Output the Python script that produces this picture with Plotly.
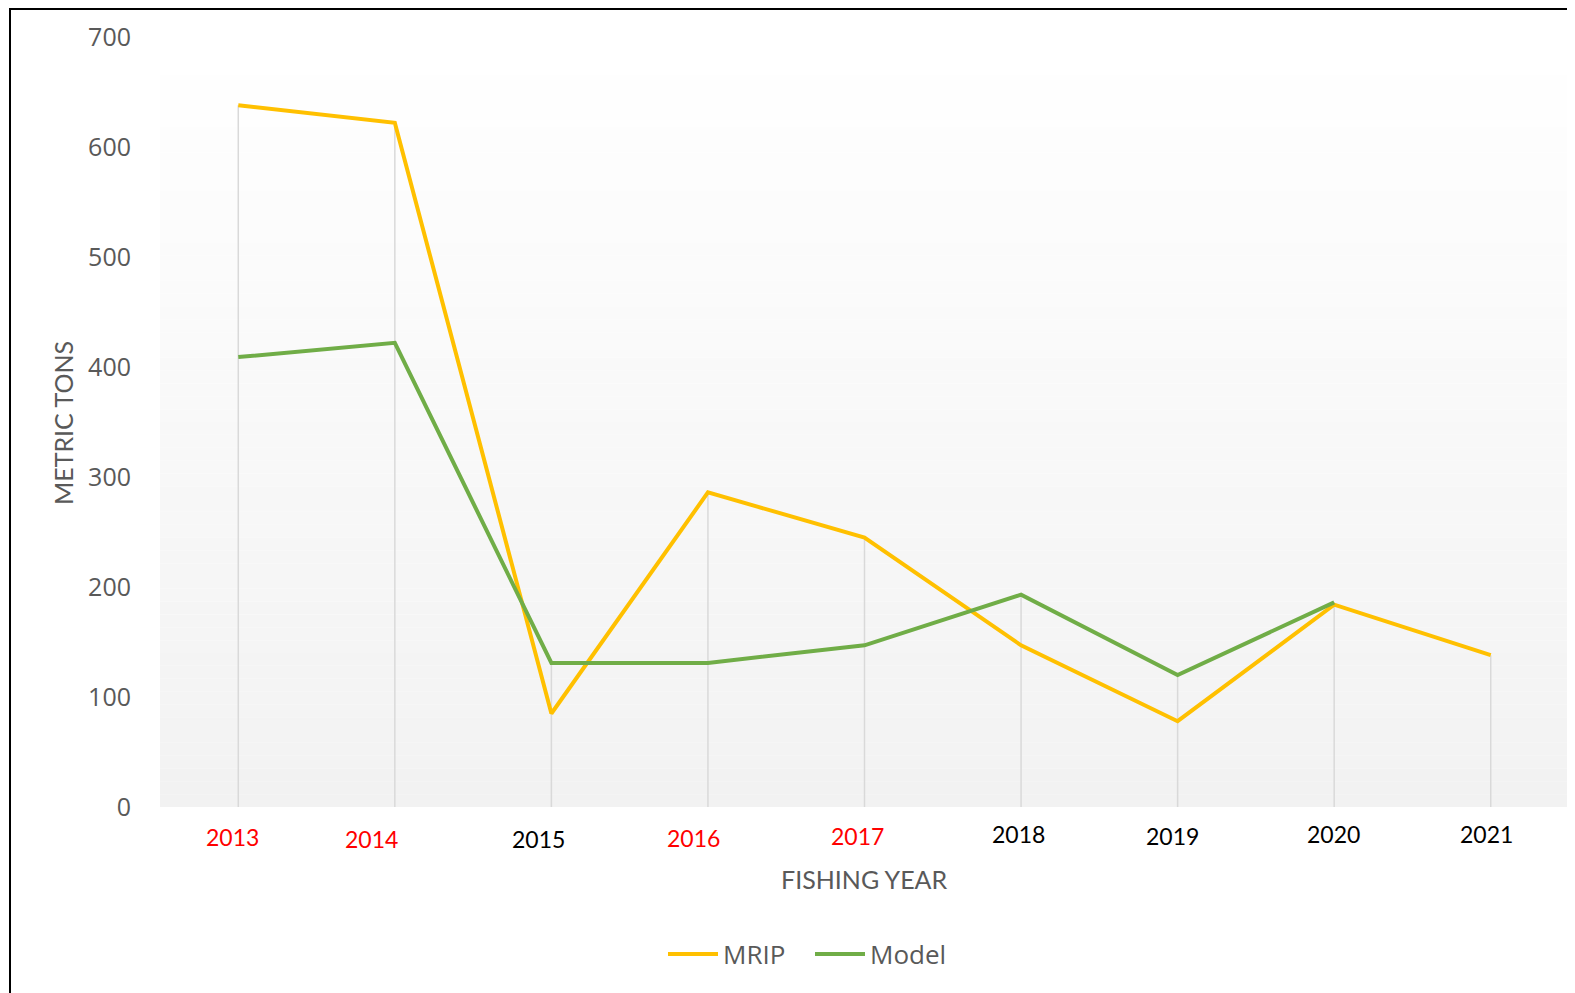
import plotly.graph_objects as go

years = ["2013", "2014", "2015", "2016", "2017", "2018", "2019", "2020", "2021"]
mrip = [638, 622, 85, 286, 245, 147, 78, 184, 138]
model = [409, 422, 131, 131, 147, 193, 120, 186, None]
label_colors = ["#FF0000", "#FF0000", "#000000", "#FF0000", "#FF0000", "#000000", "#000000", "#000000", "#000000"]
label_xshift = [-6, -23, -13, -14, -7, -3, -5, -1, -4]
label_yshift = [-1, -3, -3, -2, 0, 2, 0, 2, 2]
y_ticks = [0, 100, 200, 300, 400, 500, 600, 700]

OFF = 8  # default page body margin
W, H = 1575 - OFF, 993 - OFF
L, R, T, B = 152, 6, 29, 186
pw, ph = W - L - R, H - T - B

def px(x):  # page pixel -> paper
    return (x - OFF - L) / pw

def py(y):
    return (H - B - (y - OFF)) / ph

TITLE = "Lato, Open Sans, sans-serif"
SANS = "Open Sans, Noto Sans, sans-serif"
GRAY = "#595959"

fig = go.Figure()

# drop lines from each category's highest value down to the axis
dx, dy = [], []
for i, yr in enumerate(years):
    vals = [v for v in (mrip[i], model[i]) if v is not None]
    dx += [yr, yr, None]
    dy += [0, max(vals), None]
fig.add_trace(go.Scatter(x=dx, y=dy, mode="lines", line=dict(color="#D9D9D9", width=1.5),
                         showlegend=False, hoverinfo="skip"))

fig.add_trace(go.Scatter(x=years, y=mrip, mode="lines", name="MRIP",
                         line=dict(color="#FFC000", width=4)))
fig.add_trace(go.Scatter(x=years, y=model, mode="lines", name="Model",
                         line=dict(color="#70AD47", width=4)))

# gradient plot background
shapes = []
n = 60
for k in range(n):
    t = k / (n - 1)
    g = round(255 - (255 - 242) * t)
    shapes.append(dict(type="rect", xref="x domain", yref="y domain",
                       x0=0, x1=1, y0=1 - (k + 1) / n, y1=1 - k / n,
                       fillcolor=f"rgb({g},{g},{g})", line=dict(width=0), layer="below"))
# outer border (top and left)
shapes.append(dict(type="line", xref="paper", yref="paper", x0=px(9), x1=px(1600),
                   y0=py(9), y1=py(9), line=dict(color="black", width=2)))
shapes.append(dict(type="line", xref="paper", yref="paper", x0=px(10), x1=px(10),
                   y0=py(8), y1=py(1010), line=dict(color="black", width=2)))

annotations = []
for i, yr in enumerate(years):
    annotations.append(dict(x=i, xref="x", y=py(836), yref="paper", xanchor="center", yanchor="middle",
                            showarrow=False, text=yr,
                            font=dict(family=TITLE, size=23, color=label_colors[i]),
                            xshift=label_xshift[i], yshift=label_yshift[i]))
annotations.append(dict(x=px(864), xref="paper", y=py(879), yref="paper", xanchor="center", yanchor="middle",
                        showarrow=False, text="FISHING YEAR", font=dict(family=TITLE, size=25, color=GRAY)))
annotations.append(dict(x=px(63), xref="paper", y=py(423), yref="paper", xanchor="center", yanchor="middle",
                        showarrow=False, text="METRIC TONS", textangle=-90,
                        font=dict(family=TITLE, size=25, color=GRAY)))

fig.update_layout(
    width=W, height=H,
    margin=dict(l=L, r=R, t=T, b=B),
    paper_bgcolor="white", plot_bgcolor="white",
    shapes=shapes, annotations=annotations,
    legend=dict(orientation="h", x=px(810), xanchor="center", y=py(954), yanchor="middle",
                font=dict(family=SANS, size=26, color=GRAY), itemwidth=50,
                entrywidth=82, bgcolor="rgba(0,0,0,0)"),
    xaxis=dict(type="category", range=[-0.5, len(years) - 0.5], showticklabels=False,
               showgrid=False, zeroline=False, showline=False, ticks=""),
    yaxis=dict(range=[0, 700], tickvals=y_ticks, showgrid=False, zeroline=False, showline=False,
               tickfont=dict(family=SANS, size=25, color=GRAY), ticklabelstandoff=28, ticks=""),
)

fig.write_html("out.html")
